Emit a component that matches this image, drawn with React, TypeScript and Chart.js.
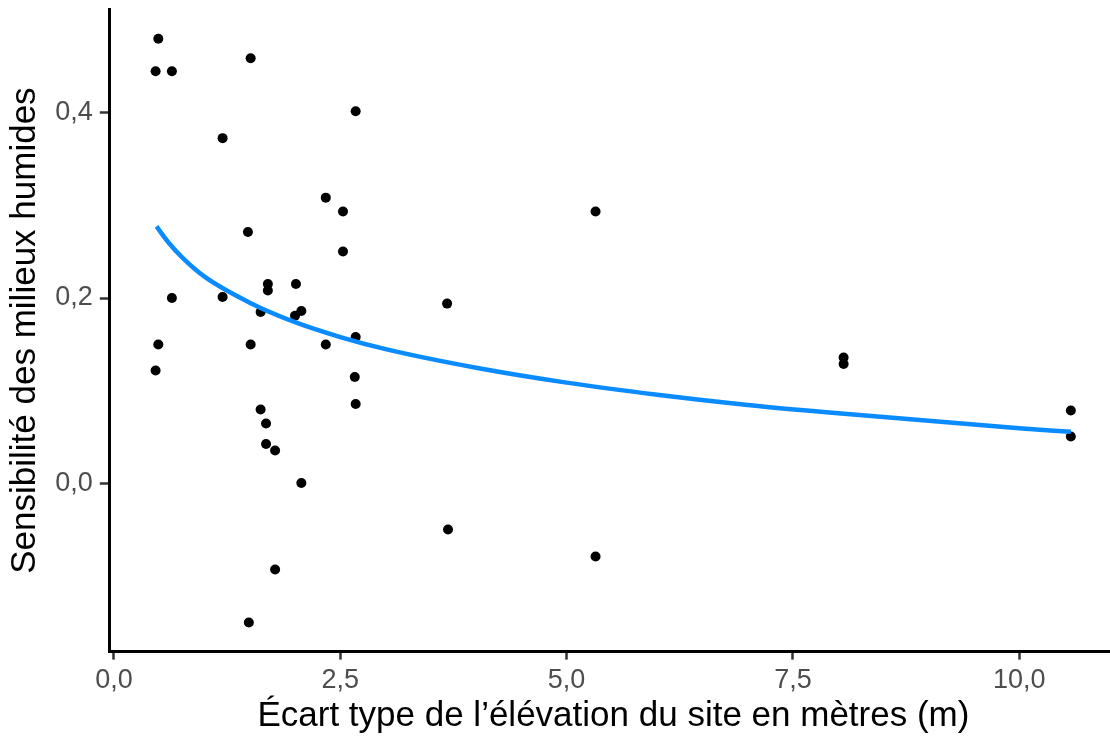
import React, { useEffect, useRef } from 'react';
import { Chart, registerables } from 'chart.js';

Chart.register(...registerables);

// Observed site points (x: standard deviation of elevation, y: wetland sensitivity)
const pointX = [0.49, 0.46, 0.64, 1.51, 2.67, 1.20, 2.34, 2.53, 1.48, 2.53, 0.64, 1.20, 1.70, 1.70, 2.01, 1.62, 2.07, 2.00, 0.49, 1.51, 2.34, 2.67, 0.46, 2.66, 2.67, 1.62, 1.68, 1.68, 1.78, 2.07, 1.78, 1.49, 5.32, 3.68, 3.69, 5.32, 8.06, 8.06, 10.57, 10.57];
const pointY = [0.479, 0.444, 0.444, 0.458, 0.401, 0.372, 0.308, 0.293, 0.271, 0.250, 0.200, 0.201, 0.215, 0.208, 0.215, 0.185, 0.186, 0.181, 0.150, 0.150, 0.150, 0.158, 0.122, 0.115, 0.086, 0.080, 0.065, 0.043, 0.036, 0.001, -0.092, -0.149, 0.293, 0.194, -0.049, -0.078, 0.136, 0.129, 0.079, 0.051];

// Fitted curve
const curveX = [0.47, 0.6, 0.75, 1.0, 1.5, 2.0, 2.5, 3.0, 4.0, 5.0, 6.0, 7.0, 8.0, 9.0, 10.0, 10.57];
const curveY = [0.277, 0.260, 0.244, 0.223, 0.195, 0.174, 0.158, 0.145, 0.125, 0.109, 0.096, 0.085, 0.076, 0.068, 0.060, 0.056];

const xTicks = [0, 2.5, 5, 7.5, 10];
const yTicks = [0, 0.2, 0.4];

const xTitle = 'Écart type de l’élévation du site en mètres (m)';
const yTitle = 'Sensibilité des milieux humides';

const FONT = '"Liberation Sans", Arial, Helvetica, sans-serif';
const fmt = (v: number) => Number(v).toFixed(1).replace('.', ',');

export default function App() {
  const ref = useRef<HTMLCanvasElement | null>(null);

  useEffect(() => {
    if (!ref.current) return;
    const points = pointX.map((x, i) => ({ x, y: pointY[i] }));
    const curve = curveX.map((x, i) => ({ x, y: curveY[i] }));

    const chart = new Chart(ref.current, {
      type: 'scatter',
      data: {
        datasets: [
          {
            label: 'ajustement',
            data: curve,
            showLine: true,
            borderColor: '#0a8bff',
            borderWidth: 4.5,
            pointRadius: 0,
            cubicInterpolationMode: 'monotone',
            fill: false,
          } as any,
          {
            label: 'sites',
            data: points,
            backgroundColor: '#000000',
            borderWidth: 0,
            pointRadius: 5,
          },
        ],
      },
      options: {
        animation: false,
        responsive: false,
        events: [],
        layout: { padding: { top: 9.5, right: 2.4, left: 0, bottom: 0 } },
        plugins: { legend: { display: false }, tooltip: { enabled: false } },
        scales: {
          x: {
            type: 'linear',
            min: -0.046,
            max: 11.08,
            afterFit: (s: any) => {
              s.height = 84.4;
              s.paddingLeft = 0;
              s.paddingRight = 0;
              s.paddingTop = 0;
              s.paddingBottom = 0;
            },
            afterBuildTicks: (s: any) => { s.ticks = xTicks.map((v) => ({ value: v })); },
            border: { display: true, color: '#000000', width: 3 },
            grid: { drawOnChartArea: false, drawTicks: true, tickLength: 8, tickWidth: 2.5, tickColor: '#333333' },
            ticks: {
              color: '#4d4d4d',
              font: { family: FONT, size: 27 },
              padding: 5,
              maxRotation: 0,
              autoSkip: false,
              callback: (v: any) => fmt(v),
            },
            title: {
              display: true,
              text: xTitle,
              color: '#000000',
              font: { family: FONT, size: 35, lineHeight: 1 },
              padding: { top: 0, bottom: 2.5 },
            },
          },
          y: {
            type: 'linear',
            min: -0.1804,
            max: 0.5104,
            afterFit: (s: any) => {
              s.width = 109.8;
              s.paddingLeft = 0;
              s.paddingRight = 0;
              s.paddingTop = 0;
              s.paddingBottom = 0;
            },
            afterBuildTicks: (s: any) => { s.ticks = yTicks.map((v) => ({ value: v })); },
            border: { display: true, color: '#000000', width: 3 },
            grid: { drawOnChartArea: false, drawTicks: true, tickLength: 10, tickWidth: 2.5, tickColor: '#333333' },
            ticks: {
              color: '#4d4d4d',
              font: { family: FONT, size: 27 },
              padding: 7,
              autoSkip: false,
              callback: (v: any) => fmt(v),
            },
            title: {
              display: true,
              text: yTitle,
              color: '#000000',
              font: { family: FONT, size: 35, lineHeight: 1 },
              padding: { top: 8, bottom: 0 },
            },
          },
        },
      },
    });
    return () => chart.destroy();
  }, []);

  return (
    <div style={{ position: 'fixed', left: 0, top: 0, width: 1110, height: 736, overflow: 'hidden', background: '#ffffff' }}>
      <canvas ref={ref} width={1122} height={736} style={{ display: 'block', width: 1122, height: 736 }} />
    </div>
  );
}
